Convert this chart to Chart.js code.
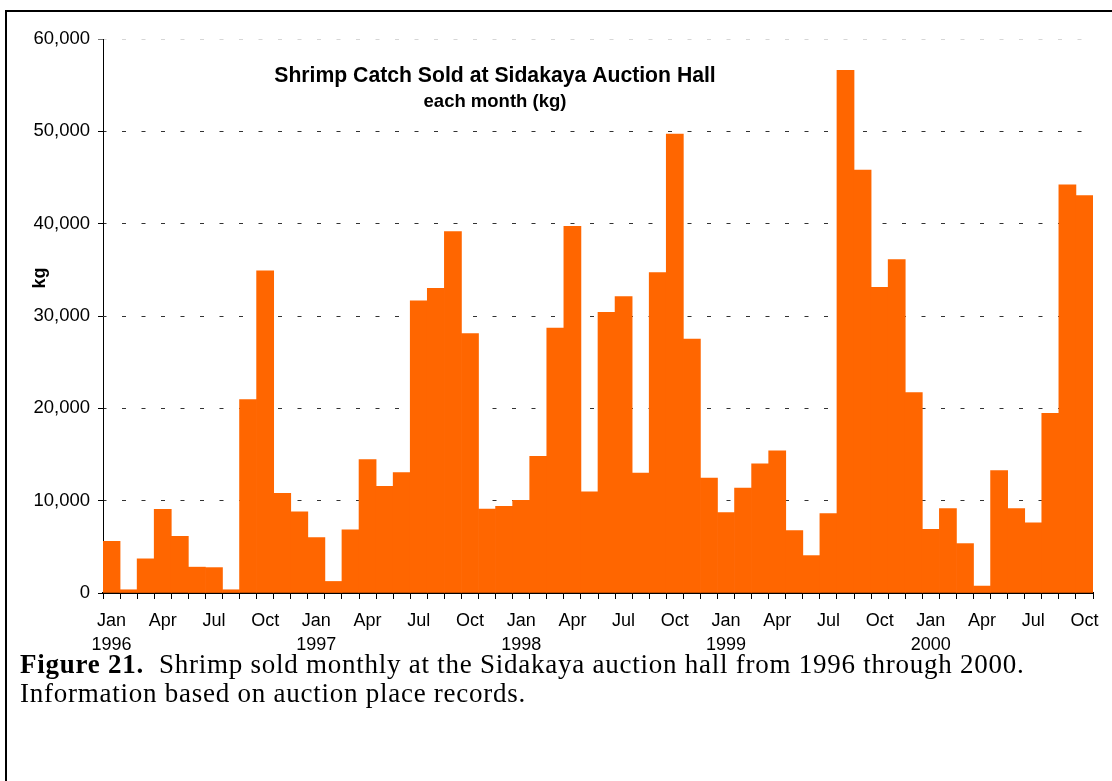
<!DOCTYPE html>
<html>
<head>
<meta charset="utf-8">
<script src="https://cdn.jsdelivr.net/npm/chart.js@4"></script>
<style>
  html, body { margin: 0; padding: 0; background: #fff; }
  body { width: 1112px; height: 781px; position: relative; overflow: hidden; }
  .frame { position: absolute; left: 5px; top: 10px; width: 1200px; height: 900px;
           border-top: 2px solid #000; border-left: 2px solid #000; }
  .chart-box { position: absolute; left: 0; top: 0; width: 1112px; height: 680px; }
  .caption { position: absolute; left: 20px; top: 650px; width: 1090px;
             font-family: "Liberation Serif", "Times New Roman", serif; font-size: 27px;
             letter-spacing: 0.75px; line-height: 29px; color: #000; white-space: nowrap; }
</style>
</head>
<body>
<div class="frame"></div>
<div class="chart-box"><canvas id="shrimpChart"></canvas></div>
<div class="caption"><b>Figure 21.</b>&nbsp; Shrimp sold monthly at the Sidakaya auction hall from 1996 through 2000.<br>Information based on auction place records.</div>

<script>
// month names + years for the category axis
const monthNames = ['Jan', 'Feb', 'Mar', 'Apr', 'May', 'Jun', 'Jul', 'Aug', 'Sep', 'Oct', 'Nov', 'Dec'];
const years = [1996, 1997, 1998, 1999, 2000];

// kg sold each month
const catch1996 = [5600, 350, 3700, 9050, 6150, 2800, 2750, 350, 20950, 34900, 10800, 8800];
const catch1997 = [6000, 1250, 6850, 14450, 11550, 13050, 31650, 33000, 39150, 28100, 9100, 9400];
const catch1998 = [10050, 14800, 28700, 39700, 10950, 30400, 32100, 13000, 34700, 49700, 27500, 12450];
const catch1999 = [8700, 11350, 14000, 15400, 6750, 4050, 8600, 56600, 45800, 33100, 36100, 21700];
const catch2000 = [6900, 9150, 5350, 750, 13250, 9150, 7600, 19450, 44200, 43050];

const yTicks = [0, 10000, 20000, 30000, 40000, 50000, 60000];

const titleText = 'Shrimp Catch Sold at Sidakaya Auction Hall';
const subtitleText = 'each month (kg)';
const yTitle = 'kg';

const values = [].concat(catch1996, catch1997, catch1998, catch1999, catch2000);
const labels = values.map((v, i) => monthNames[i % 12] + ' ' + years[Math.floor(i / 12)]);

const fontFam = '"Liberation Sans", Arial, sans-serif';

// title sits inside the plot, and "kg" is a bit above centre, so draw them by hand
const innerText = {
  id: 'innerText',
  afterDraw(chart) {
    const { ctx, chartArea } = chart;
    ctx.save();
    ctx.fillStyle = '#000';
    ctx.textAlign = 'center';
    ctx.textBaseline = 'middle';
    ctx.font = 'bold 21.2px ' + fontFam;
    ctx.fillText(titleText, chartArea.left + 392, chartArea.top + 37);
    ctx.font = 'bold 18.5px ' + fontFam;
    ctx.fillText(subtitleText, chartArea.left + 392, chartArea.top + 63);
    ctx.translate(40, 278);
    ctx.rotate(-Math.PI / 2);
    ctx.font = 'bold 18px ' + fontFam;
    ctx.fillText(yTitle, 0, 0);
    ctx.restore();
  }
};

new Chart(document.getElementById('shrimpChart'), {
  type: 'bar',
  data: {
    labels: labels,
    datasets: [{
      label: 'kg',
      data: values,
      backgroundColor: '#ff6600',
      borderWidth: 0,
      barPercentage: 1,
      categoryPercentage: 1
    }]
  },
  options: {
    responsive: true,
    maintainAspectRatio: false,
    animation: false,
    layout: { padding: { top: 39, right: 19, left: 0, bottom: 0 } },
    plugins: {
      legend: { display: false },
      tooltip: { enabled: false }
    },
    scales: {
      x: {
        offset: true,
        grid: {
          offset: true,
          drawOnChartArea: false,
          tickLength: 6,
          tickColor: '#000'
        },
        border: { color: '#000', width: 2 },
        ticks: {
          autoSkip: false,
          maxRotation: 0,
          minRotation: 0,
          padding: 11,
          color: '#000',
          font: { family: fontFam, size: 18, lineHeight: 1.28 },
          callback: function (val, i) {
            const m = i % 12;
            if (m % 3 !== 0) return '';
            if (m === 0) return [monthNames[m], String(years[Math.floor(i / 12)])];
            return monthNames[m];
          }
        },
        afterFit: function (scale) { scale.height = 87; }
      },
      y: {
        min: 0,
        max: 60000,
        afterBuildTicks: function (scale) { scale.ticks = yTicks.map(v => ({ value: v })); },
        grid: {
          color: function (c) {
            if (c.tick.value === 0) return 'rgba(0,0,0,0)';
            if (c.tick.value === 60000) return '#d6d6d6';
            return '#333';
          },
          tickBorderDash: [],
          tickColor: function (c) { return c.tick.value === 60000 ? '#777' : '#000'; },
          tickLength: 5
        },
        border: { color: '#000', width: 1, dash: [4, 15.5], dashOffset: -18 },
        ticks: {
          padding: 8,
          color: '#000',
          font: { family: fontFam, size: 18.5 },
          callback: function (v) { return v.toLocaleString('en-US'); }
        },
        afterFit: function (scale) { scale.width = 103; }
      }
    }
  },
  plugins: [innerText]
});
</script>
</body>
</html>
